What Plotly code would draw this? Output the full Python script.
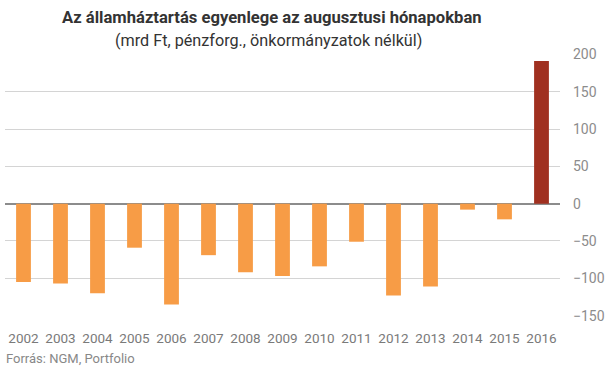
import plotly.graph_objects as go

years = ["2002", "2003", "2004", "2005", "2006", "2007", "2008", "2009",
         "2010", "2011", "2012", "2013", "2014", "2015", "2016"]
balance = [-105, -107, -120, -59, -135, -69, -92, -97,
           -84, -51, -123, -111, -8, -21, 191]
colors = ["#F79C46"] * 14 + ["#A03020"]

y_ticks = [-150, -100, -50, 0, 50, 100, 150, 200]

FONT = "Roboto, sans-serif"

L, R, T, B = 5, 45, 54, 62
W, H = 605, 378
pw, ph = W - L - R, H - T - B


def px_x(x):
    return (x - L) / pw


def px_y(y_from_top):
    return (H - y_from_top - B) / ph


fig = go.Figure(go.Bar(x=years, y=balance, marker_color=colors,
                       marker_line_width=0))

fig.update_layout(
    width=W, height=H,
    margin=dict(l=L, r=R, t=T, b=B),
    plot_bgcolor="white", paper_bgcolor="white",
    bargap=0.6,
    showlegend=False,
    font=dict(family=FONT, color="#888888", size=14),
    xaxis=dict(showgrid=False, tickfont=dict(size=13.5, color="#7a7a7a"),
               ticks="", showline=False, tickangle=0, automargin=False,
               ticklabelstandoff=12),
    yaxis=dict(side="right", range=[-150.5, 200.5], tickvals=y_ticks,
               showgrid=True, gridcolor="#d4d4d4", gridwidth=1,
               zeroline=True, zerolinecolor="#8c8c8c", zerolinewidth=1.5,
               tickfont=dict(size=14, color="#8c8c8c"), ticks="",
               ticklabelstandoff=12, automargin=False),
    annotations=[
        dict(text="<b>Az államháztartás egyenlege az augusztusi hónapokban</b>",
             x=px_x(272), y=px_y(17), xref="paper", yref="paper",
             xanchor="center", yanchor="middle", showarrow=False,
             font=dict(size=16.6, color="#333333", family=FONT)),
        dict(text="(mrd Ft, pénzforg., önkormányzatok nélkül)",
             x=px_x(268), y=px_y(41), xref="paper", yref="paper",
             xanchor="center", yanchor="middle", showarrow=False,
             font=dict(size=16.2, color="#333333", family=FONT)),
        dict(text="Forrás: NGM, Portfolio", x=px_x(4), y=px_y(358),
             xref="paper", yref="paper", showarrow=False, xanchor="left",
             yanchor="middle",
             font=dict(size=13, color="#888888", family=FONT)),
    ],
)

fig.write_html(
    "out.html",
    config={"displayModeBar": False},
    post_script="document.body.style.margin='0px';",
)
